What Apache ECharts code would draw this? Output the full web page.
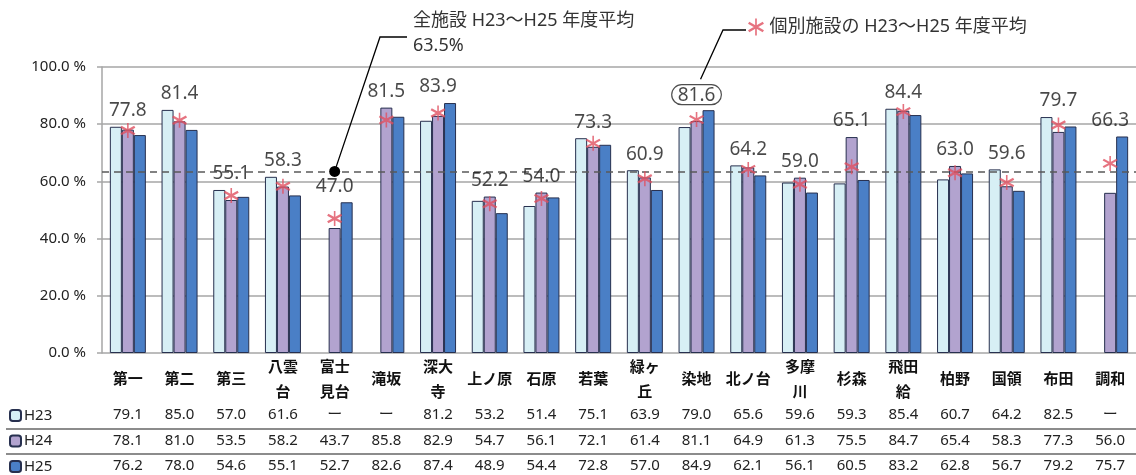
<!DOCTYPE html>
<html><head><meta charset="utf-8">
<script src="https://cdn.jsdelivr.net/npm/echarts@6/dist/echarts.min.js"></script>
<style>html,body{margin:0;padding:0;background:#fff}#c{width:1136px;height:475px}</style>
</head><body><div id="c"></div>
<script>
const categories = ['第一','第二','第三','八雲\n台','富士\n見台','滝坂','深大\n寺','上ノ原','石原','若葉','緑ヶ\n丘','染地','北ノ台','多摩\n川','杉森','飛田\n給','柏野','国領','布田','調和'];
const seriesNames = ['H23','H24','H25'];
const H23 = [79.1,85.0,57.0,61.6,null,null,81.2,53.2,51.4,75.1,63.9,79.0,65.6,59.6,59.3,85.4,60.7,64.2,82.5,null];
const H24 = [78.1,81.0,53.5,58.2,43.7,85.8,82.9,54.7,56.1,72.1,61.4,81.1,64.9,61.3,75.5,84.7,65.4,58.3,77.3,56.0];
const H25 = [76.2,78.0,54.6,55.1,52.7,82.6,87.4,48.9,54.4,72.8,57.0,84.9,62.1,56.1,60.5,83.2,62.8,56.7,79.2,75.7];
const facilityAvg = [77.8,81.4,55.1,58.3,47.0,81.5,83.9,52.2,54.0,73.3,60.9,81.6,64.2,59.0,65.1,84.4,63.0,59.6,79.7,66.3];
const overallAvg = 63.5;
const yTicks = [0,20,40,60,80,100];
const highlightName = '染地';
const overallTitle = '全施設 H23～H25 年度平均';
const facilityTitle = '個別施設の H23～H25 年度平均';

const FONT = '"Noto Sans", "Noto Sans CJK JP", sans-serif';
const STAR = 'path://M9,0L11,0L11,20L9,20Z M0.6,6.3L2.1,3.7L19.4,13.7L17.9,16.3Z M17.9,3.7L19.4,6.3L2.1,16.3L0.6,13.7Z';
const colors = ['#d7eff5','#b2a3cf','#4a7fc6'];
const fmt = v => (v == null ? 'ー' : v.toFixed(1));
const rows = [H23,H24,H25];
const groupMax = categories.map((c,i) => Math.max(...rows.map(r => r[i] == null ? 0 : r[i])));

const chart = echarts.init(document.getElementById('c'));
const tableAxis = (arr, off) => ({
  type:'category', data:categories, gridIndex:0, position:'bottom', offset:off,
  axisLine:{show:false}, axisTick:{show:false},
  axisLabel:{interval:0, margin:0, verticalAlign:'middle', fontSize:15, color:'#222', fontFamily:FONT,
    formatter:(v,i)=>fmt(arr[i])}
});
const rowLegend = (name, k) => ({
  data:[name], left:9, top:408 + k*25.5, padding:0, itemWidth:11, itemHeight:11, selectedMode:false,
  textStyle:{fontSize:15, color:'#222', fontFamily:FONT, padding:[0,0,0,-2]}
});

const option = {
  animation:false,
  grid:{left:102, right:-6, top:67, bottom:122},
  legend:[
    ...seriesNames.map(rowLegend),
    {
      data:[{name:facilityTitle, icon:STAR}], left:748, top:18, padding:0,
      itemWidth:17, itemHeight:17, selectedMode:false, itemStyle:{color:'#e05060'},
      textStyle:{fontSize:18, color:'#333', fontFamily:FONT}
    }
  ],
  xAxis:[{
    type:'category', data:categories,
    axisLine:{show:false}, axisTick:{show:false},
    axisLabel:{interval:0, margin:27, verticalAlign:'middle', lineHeight:25, fontSize:15, fontWeight:'bold', color:'#111', fontFamily:FONT}
  }, tableAxis(H23,62), tableAxis(H24,88), tableAxis(H25,113)],
  yAxis:{
    type:'value', min:yTicks[0], max:yTicks[yTicks.length-1], interval:yTicks[1]-yTicks[0],
    axisLine:{show:true, lineStyle:{color:'#a6a6a6', width:1.5}},
    axisTick:{show:true, length:5, lineStyle:{color:'#a6a6a6', width:1.5}},
    splitLine:{lineStyle:{color:'#a6a6a6', width:1.5}},
    axisLabel:{margin:16, fontSize:15, color:'#222', fontFamily:FONT, formatter:v=>v.toFixed(1)+' %'}
  },
  series:[
    ...rows.map((arr,k)=>({
      name:seriesNames[k], type:'bar', data:arr, barWidth:12, barGap:'0%',
      itemStyle:{color:colors[k], borderColor:'#27304f', borderWidth:1},
      markLine: k===0 ? {silent:true, symbol:'none', label:{show:false},
        lineStyle:{color:'#5a5a5a', type:[7,5], width:1.6}, data:[{yAxis:overallAvg}]} : undefined,
      z:2
    })),
    {
      name:facilityTitle, type:'scatter', data:facilityAvg, symbol:STAR, symbolSize:15,
      itemStyle:{color:'#e05060'}, z:5,
      markPoint:{silent:true, symbol:'circle', symbolSize:11, itemStyle:{color:'#000'}, label:{show:false},
        data:[{coord:[4, overallAvg]}]}
    },
    {
      name:'labels', type:'scatter', symbolSize:1, itemStyle:{color:'rgba(0,0,0,0)'}, z:6, silent:true,
      data:groupMax.map((m,i)=>{
        const d = {value:m};
        if (categories[i] === highlightName) {
          d.label = {borderColor:'#222', borderWidth:1.2, borderRadius:15, padding:[1,6,0,6], distance:5};
        }
        return d;
      }),
      label:{show:true, position:'top', distance:6, fontSize:19, color:'#1a1a1a', fontFamily:FONT,
        formatter:p=>fmt(facilityAvg[p.dataIndex])}
    }
  ]
};
chart.setOption(option);

const dot = chart.convertToPixel({xAxisIndex:0, yAxisIndex:0}, [4, overallAvg]);
const hiIdx = categories.indexOf(highlightName);
const hiTop = chart.convertToPixel({xAxisIndex:0, yAxisIndex:0}, [hiIdx, groupMax[hiIdx]]);
chart.setOption({
  graphic:[
    {type:'polyline', shape:{points:[dot,[380,37],[407,37]]}, style:{stroke:'#000', lineWidth:1.3, fill:null}, z:10},
    {type:'polyline', shape:{points:[[hiTop[0]+4, hiTop[1]-31],[723,30],[746,30]]}, style:{stroke:'#000', lineWidth:1.3, fill:null}, z:10},
    {type:'text', left:413, top:8, style:{text:overallTitle+'\n'+overallAvg.toFixed(1)+'%', fontSize:18, lineHeight:25, fill:'#333', fontFamily:FONT}},
    {type:'line', shape:{x1:6,y1:429,x2:1136,y2:429}, style:{stroke:'#8c8c8c', lineWidth:2}},
    {type:'line', shape:{x1:6,y1:454,x2:1136,y2:454}, style:{stroke:'#8c8c8c', lineWidth:2}}
  ]
});
</script></body></html>
